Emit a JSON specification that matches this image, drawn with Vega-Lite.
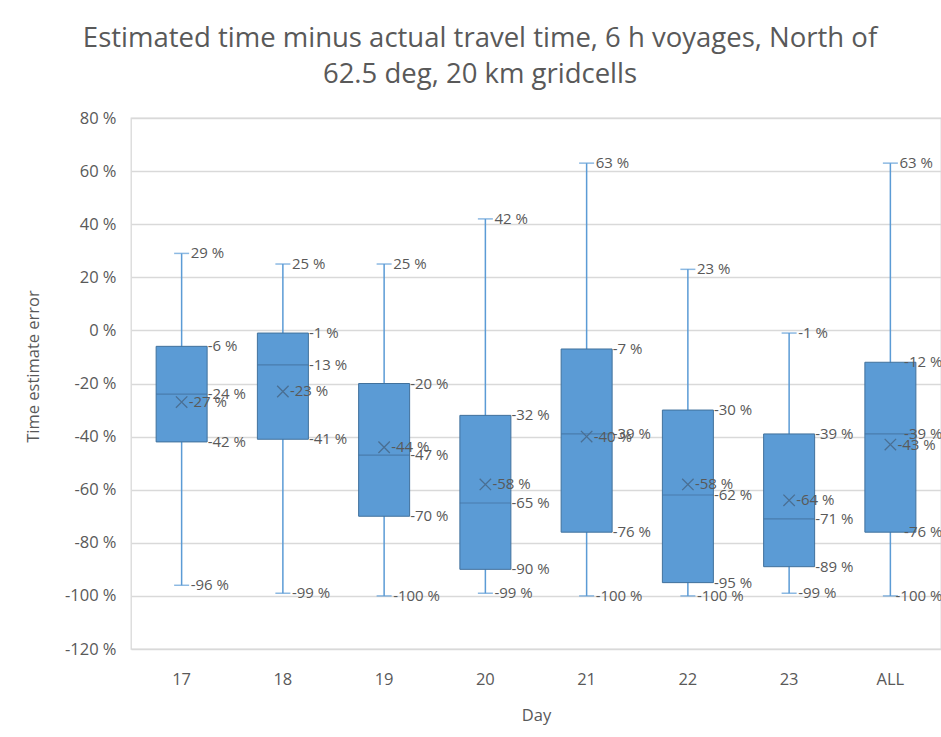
{
  "$schema": "https://vega.github.io/schema/vega-lite/v6.json",
  "autosize": "none",
  "width": 810,
  "height": 531,
  "padding": {"left": 131, "top": 118, "right": 0, "bottom": 88},
  "background": "white",
  "title": {
    "text": ["Estimated time minus actual travel time, 6 h voyages, North of", "62.5 deg, 20 km gridcells"],
    "anchor": "middle",
    "dx": -56,
    "offset": 22,
    "fontSize": 27.5,
    "lineHeight": 36,
    "font": "Open Sans",
    "fontWeight": "normal",
    "color": "#595959"
  },
  "data": {
    "values": [
      {"day": "17", "min": -96, "q1": -42, "median": -24, "mean": -27, "q3": -6, "max": 29},
      {"day": "18", "min": -99, "q1": -41, "median": -13, "mean": -23, "q3": -1, "max": 25},
      {"day": "19", "min": -100, "q1": -70, "median": -47, "mean": -44, "q3": -20, "max": 25},
      {"day": "20", "min": -99, "q1": -90, "median": -65, "mean": -58, "q3": -32, "max": 42},
      {"day": "21", "min": -100, "q1": -76, "median": -39, "mean": -40, "q3": -7, "max": 63},
      {"day": "22", "min": -100, "q1": -95, "median": -62, "mean": -58, "q3": -30, "max": 23},
      {"day": "23", "min": -99, "q1": -89, "median": -71, "mean": -64, "q3": -39, "max": -1},
      {"day": "ALL", "min": -100, "q1": -76, "median": -39, "mean": -43, "q3": -12, "max": 63}
    ]
  },
  "encoding": {
    "x": {
      "field": "day",
      "type": "nominal",
      "sort": null,
      "scale": {"paddingInner": 0, "paddingOuter": 0},
      "axis": {
        "title": "Day",
        "labelAngle": 0,
        "domain": false,
        "ticks": false,
        "labelPadding": 22,
        "titlePadding": 20,
        "labelFontSize": 16.5,
        "titleFontSize": 16.5,
        "labelColor": "#595959",
        "titleColor": "#595959",
        "labelFont": "Open Sans",
        "titleFont": "Open Sans",
        "titleFontWeight": "normal",
        "grid": false
      }
    }
  },
  "layer": [
    {
      "mark": {"type": "rule", "color": "#5b9bd5", "strokeWidth": 1.5},
      "encoding": {
        "y": {
          "field": "min",
          "type": "quantitative",
          "scale": {"domain": [-120, 80], "nice": false},
          "axis": {
            "title": "Time estimate error",
            "values": [-120, -100, -80, -60, -40, -20, 0, 20, 40, 60, 80],
            "labelExpr": "datum.value + ' %'",
            "domain": false,
            "ticks": false,
            "labelPadding": 15,
            "labelFontSize": 16.5,
            "titleFontSize": 16.5,
            "labelColor": "#595959",
            "titleColor": "#595959",
            "labelFont": "Open Sans",
            "titleFont": "Open Sans",
            "titleFontWeight": "normal",
            "titleX": -98,
            "titleY": 248,
            "titleAngle": -90,
            "titleAlign": "center",
            "titleBaseline": "middle",
            "gridColor": "#d9d9d9",
            "gridWidth": 1.3
          }
        },
        "y2": {"field": "max"}
      }
    },
    {
      "mark": {"type": "tick", "color": "#5b9bd5", "size": 15, "thickness": 1.5},
      "encoding": {"y": {"field": "max", "type": "quantitative"}}
    },
    {
      "mark": {"type": "tick", "color": "#5b9bd5", "size": 15, "thickness": 1.5},
      "encoding": {"y": {"field": "min", "type": "quantitative"}}
    },
    {
      "mark": {"type": "bar", "size": 51, "fill": "#5b9bd5", "stroke": "#41719c", "strokeWidth": 1},
      "encoding": {
        "y": {"field": "q1", "type": "quantitative"},
        "y2": {"field": "q3"}
      }
    },
    {
      "mark": {"type": "tick", "color": "#41719c", "size": 51, "thickness": 1.2},
      "encoding": {"y": {"field": "median", "type": "quantitative"}}
    },
    {
      "mark": {"type": "point", "shape": "M-1,-1L1,1M-1,1L1,-1", "size": 130, "filled": false, "stroke": "#4a6f93", "strokeWidth": 1.3, "opacity": 1},
      "encoding": {"y": {"field": "mean", "type": "quantitative"}}
    },
    {
      "mark": {"type": "text", "align": "left", "baseline": "middle", "dx": 9, "fontSize": 15, "font": "Open Sans", "color": "#595959", "text": {"expr": "datum.max + ' %'"}},
      "encoding": {"y": {"field": "max", "type": "quantitative"}}
    },
    {
      "mark": {"type": "text", "baseline": "middle", "align": {"expr": "datum.day === 'ALL' ? 'right' : 'left'"}, "dx": {"expr": "datum.day === 'ALL' ? 52 : 9"}, "fontSize": 15, "font": "Open Sans", "color": "#595959", "text": {"expr": "datum.min + ' %'"}},
      "encoding": {"y": {"field": "min", "type": "quantitative"}}
    },
    {
      "mark": {"type": "text", "baseline": "middle", "align": {"expr": "datum.day === 'ALL' ? 'right' : 'left'"}, "dx": {"expr": "datum.day === 'ALL' ? 52 : 26"}, "fontSize": 15, "font": "Open Sans", "color": "#595959", "text": {"expr": "datum.q3 + ' %'"}},
      "encoding": {"y": {"field": "q3", "type": "quantitative"}}
    },
    {
      "mark": {"type": "text", "baseline": "middle", "align": {"expr": "datum.day === 'ALL' ? 'right' : 'left'"}, "dx": {"expr": "datum.day === 'ALL' ? 52 : 26"}, "fontSize": 15, "font": "Open Sans", "color": "#595959", "text": {"expr": "datum.q1 + ' %'"}},
      "encoding": {"y": {"field": "q1", "type": "quantitative"}}
    },
    {
      "mark": {"type": "text", "baseline": "middle", "align": {"expr": "datum.day === 'ALL' ? 'right' : 'left'"}, "dx": {"expr": "datum.day === 'ALL' ? 52 : 26"}, "fontSize": 15, "font": "Open Sans", "color": "#595959", "text": {"expr": "datum.median + ' %'"}},
      "encoding": {"y": {"field": "median", "type": "quantitative"}}
    },
    {
      "mark": {"type": "text", "align": "left", "baseline": "middle", "dx": 7, "fontSize": 15, "font": "Open Sans", "color": "#595959", "text": {"expr": "datum.mean + ' %'"}},
      "encoding": {"y": {"field": "mean", "type": "quantitative"}}
    }
  ],
  "config": {
    "view": {"stroke": "#d9d9d9", "strokeWidth": 1.3}
  }
}
